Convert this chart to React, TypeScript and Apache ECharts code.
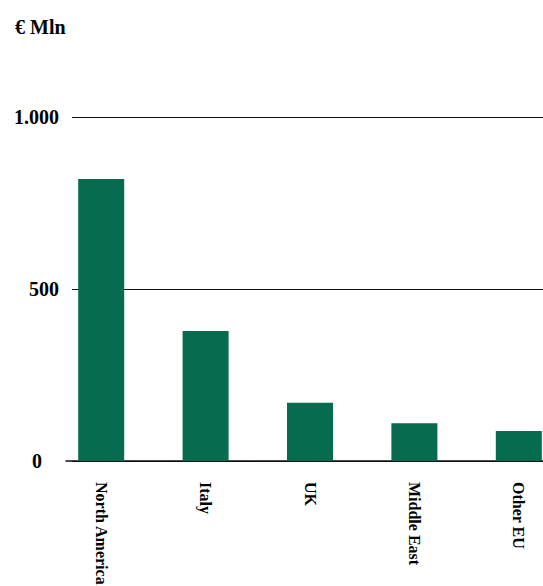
import React, { useEffect, useRef } from "react";
import * as echarts from "echarts";

const categories = ["North America", "Italy", "UK", "Middle East", "Other EU"];
const values = [820, 378, 169, 110, 87];
const yTicks = [0, 500, 1000];
const yTickLabels = ["0", "500", "1.000"];
const unitLabel = "€ Mln";

const FONT = "'Liberation Serif', 'Times New Roman', serif";

export default function App() {
  const ref = useRef<HTMLDivElement>(null);
  useEffect(() => {
    if (!ref.current) return;
    const chart = echarts.init(ref.current, undefined, { renderer: "svg" });
    const top = 117;
    const bottom = 125;
    chart.setOption({
      animation: false,
      backgroundColor: "#ffffff",
      title: {
        text: unitLabel,
        left: 10,
        top: 12,
        textStyle: { fontFamily: FONT, fontWeight: "bold", fontSize: 20, color: "#000" },
      },
      grid: [
        { left: 72, right: 0, top, bottom, outerBoundsMode: "none", containLabel: false },
        { left: 66, right: 0, top, bottom, outerBoundsMode: "none", containLabel: false },
        { left: 49, width: 522, top, bottom, outerBoundsMode: "none", containLabel: false },
      ],
      xAxis: [
        { type: "category", gridIndex: 0, data: categories, show: false },
        {
          type: "category",
          gridIndex: 1,
          data: categories,
          axisLine: { show: true, lineStyle: { color: "#111", width: 1.5 } },
          axisTick: { show: false },
          axisLabel: { show: false },
        },
        {
          type: "category",
          gridIndex: 2,
          data: categories,
          axisLine: { show: false },
          axisTick: { show: false },
          axisLabel: {
            rotate: -90,
            margin: 21,
            fontFamily: FONT,
            fontWeight: "bold",
            fontSize: 16,
            color: "#000",
          },
        },
      ],
      yAxis: [
        {
          type: "value",
          gridIndex: 0,
          min: yTicks[0],
          max: yTicks[yTicks.length - 1],
          interval: 500,
          axisLine: { show: false },
          axisTick: { show: false },
          splitLine: { show: true, lineStyle: { color: "#111", width: 1.2 } },
          axisLabel: {
            margin: 13,
            formatter: (v: number) => {
              const i = yTicks.indexOf(v);
              const t = i >= 0 ? yTickLabels[i] : "";
              return v === 0 ? `{z|${t}}` : t;
            },
            rich: {
              z: {
                fontFamily: FONT,
                fontWeight: "bold",
                fontSize: 20,
                color: "#000",
                padding: [0, 17, 0, 0],
              },
            },
            fontFamily: FONT,
            fontWeight: "bold",
            fontSize: 20,
            color: "#000",
          },
        },
        { type: "value", gridIndex: 1, min: 0, max: 1000, show: false },
        { type: "value", gridIndex: 2, min: 0, max: 1000, show: false },
      ],
      series: [
        {
          type: "bar",
          xAxisIndex: 2,
          yAxisIndex: 2,
          data: values,
          barWidth: 46,
          itemStyle: { color: "#066b4f" },
          z: 5,
        },
      ],
    });
    return () => chart.dispose();
  }, []);
  return (
    <div
      ref={ref}
      style={{ position: "absolute", left: 0, top: 0, width: 543, height: 586 }}
    />
  );
}
